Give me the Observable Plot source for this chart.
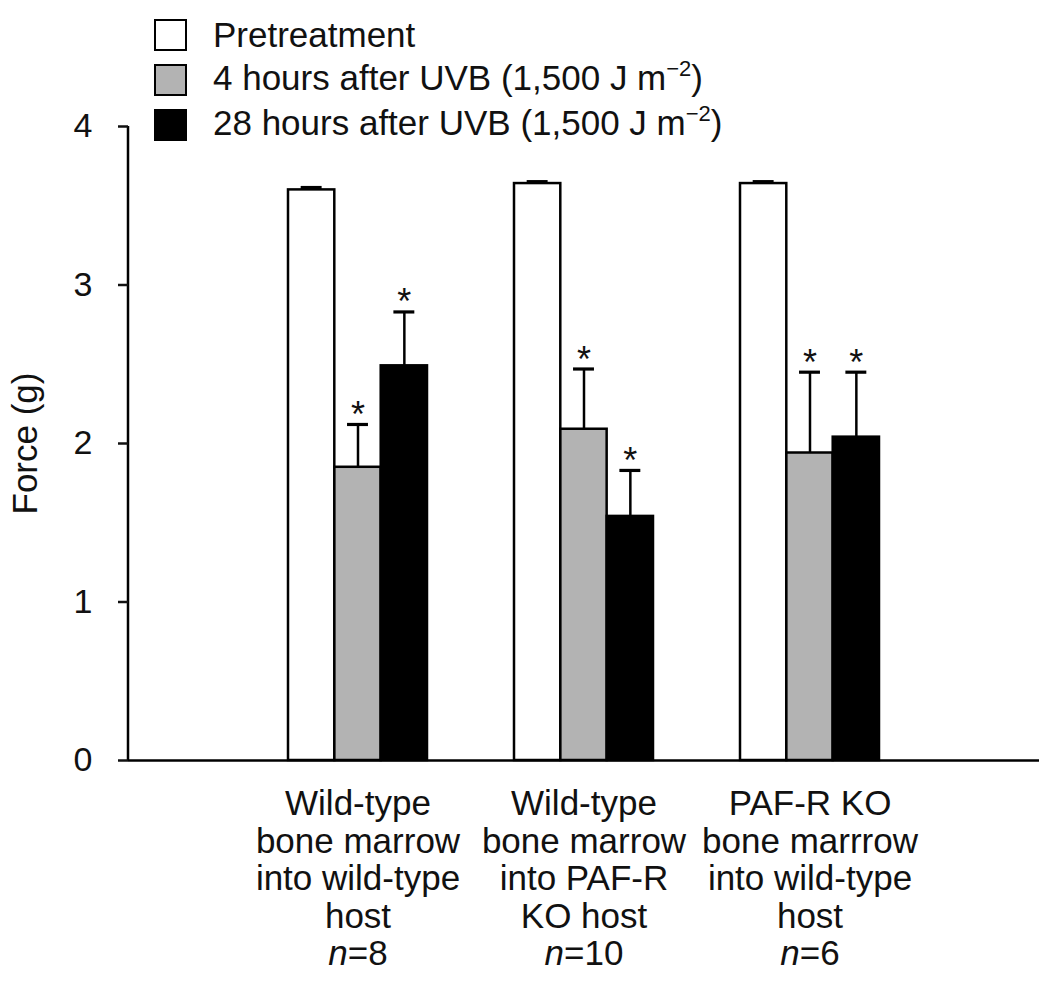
<!DOCTYPE html>
<html>
<head>
<meta charset="utf-8">
<script src="https://cdn.jsdelivr.net/npm/d3@7"></script>
<script src="https://cdn.jsdelivr.net/npm/@observablehq/plot@0.6"></script>
<style>
  body { margin: 0; background: #fff; font-family: "Liberation Sans", Arial, Helvetica, sans-serif; }
  #wrap { position: relative; width: 1050px; height: 981px; }
  #legend { position: absolute; left: 154px; top: 12px; }
  .row { display: flex; align-items: center; height: 45px; font-size: 35px; line-height: 35px; color: #111; white-space: nowrap; }
  .sw { width: 33px; height: 32px; box-sizing: border-box; border: 2.5px solid #000; margin-right: 26px; flex: none; }
  .sup { font-size: 22px; position: relative; top: -14px; }
</style>
</head>
<body>
<div id="wrap">
  <div id="chart"></div>
  <div id="legend"></div>
</div>
<script>
// ---- data ----
const groupLabels = [
  "Wild-type\nbone marrow\ninto wild-type\nhost",
  "Wild-type\nbone marrow\ninto PAF-R\nKO host",
  "PAF-R KO\nbone marrrow\ninto wild-type\nhost"
];
const nValues = [8, 10, 6];
const seriesNames = ["Pretreatment", "4 hours after UVB", "28 hours after UVB"];
const legendLabels = [
  "Pretreatment",
  "4 hours after UVB (1,500 J m<span class='sup'>\u22122</span>)",
  "28 hours after UVB (1,500 J m<span class='sup'>\u22122</span>)"
];
const pretreatment = [3.60, 3.64, 3.64];
const pretreatmentErr = [0.015, 0.012, 0.012];
const after4h = [1.85, 2.09, 1.94];
const after4hErr = [0.27, 0.38, 0.51];
const after28h = [2.49, 1.54, 2.04];
const after28hErr = [0.34, 0.29, 0.41];
const significant = [[false, false, false], [true, true, true], [true, true, true]];
const yTicks = [0, 1, 2, 3, 4];

// ---- styles / layout ----
const seriesFill = ["#ffffff", "#b3b3b3", "#000000"];
const W = 1050, H = 981, mL = 128, mR = 11, mT = 126, mB = 221;
const padIn = 0.385, padOut = 0.707;
const capW = 21;

const seriesValues = [pretreatment, after4h, after28h];
const seriesErrs = [pretreatmentErr, after4hErr, after28hErr];
const rows = [];
seriesNames.forEach((s, i) => {
  groupLabels.forEach((g, j) => {
    rows.push({group: g, series: s, si: i, value: seriesValues[i][j], err: seriesErrs[i][j], sig: significant[i][j]});
  });
});
const groupRows = groupLabels.map((g, j) => ({group: g, label: g + "\nn=" + nValues[j]}));

const bw = d3.scaleBand(groupLabels, [mL, W - mR]).paddingInner(padIn).paddingOuter(padOut).bandwidth();
const w = bw / seriesNames.length;
const k = seriesNames.length - 1;

const marks = [];
seriesNames.forEach((s, i) => {
  const d = rows.filter(r => r.si === i);
  marks.push(Plot.barY(d, {x: "group", y: "value", insetLeft: i * w, insetRight: (k - i) * w,
    fill: seriesFill[i], stroke: "black", strokeWidth: 2.5}));
  marks.push(Plot.ruleX(d, {x: "group", y1: "value", y2: r => r.value + r.err, dx: (i - k / 2) * w,
    stroke: "black", strokeWidth: 2.5}));
  marks.push(Plot.tickY(d, {x: "group", y: r => r.value + r.err,
    insetLeft: i * w + (w - capW) / 2, insetRight: (k - i) * w + (w - capW) / 2,
    stroke: "black", strokeWidth: 3.2}));
  marks.push(Plot.text(d.filter(r => r.sig), {x: "group", y: r => r.value + r.err, text: () => "*",
    dx: (i - k / 2) * w, dy: -9, fontSize: 36, fill: "#111"}));
});

function yAxisLine(index, scales, values, dims) {
  const line = document.createElementNS("http://www.w3.org/2000/svg", "line");
  line.setAttribute("x1", dims.marginLeft);
  line.setAttribute("x2", dims.marginLeft);
  line.setAttribute("y1", dims.marginTop);
  line.setAttribute("y2", dims.height - dims.marginBottom);
  line.setAttribute("stroke", "black");
  line.setAttribute("stroke-width", 2.5);
  return line;
}

const chart = Plot.plot({
  width: W, height: H,
  marginLeft: mL, marginRight: mR, marginTop: mT, marginBottom: mB,
  style: {fontFamily: "'Liberation Sans', Arial, Helvetica, sans-serif", fontSize: "34px", background: "white", color: "#111"},
  x: {domain: groupLabels, paddingInner: padIn, paddingOuter: padOut, axis: null},
  y: {domain: [0, 4]},
  marks: [
    ...marks,
    Plot.ruleY([0], {stroke: "black", strokeWidth: 2.5}),
    yAxisLine,
    Plot.axisY({ticks: yTicks, tickSize: 10, tickPadding: 26, fontSize: 34, strokeWidth: 2.5, label: null, tickFormat: d => String(d)}),
    Plot.text(groupRows, {x: "group", frameAnchor: "bottom", text: "label", lineAnchor: "top", dy: 28,
      fontSize: 35, lineHeight: 1.071, fill: "#111"}),
    Plot.text(["Force (g)"], {frameAnchor: "left", textAnchor: "middle", rotate: -90, dx: -103, dy: 0, fontSize: 35, fill: "#111"})
  ]
});

// italic "n" in the n=… lines
chart.querySelectorAll("tspan").forEach(t => {
  const m = /^n=(\d+)$/.exec(t.textContent);
  if (m) {
    t.textContent = "";
    const it = document.createElementNS("http://www.w3.org/2000/svg", "tspan");
    it.setAttribute("font-style", "italic");
    it.textContent = "n";
    t.appendChild(it);
    t.appendChild(document.createTextNode("=" + m[1]));
  }
});
document.getElementById("chart").appendChild(chart);

const legend = document.getElementById("legend");
legendLabels.forEach((lab, i) => {
  const row = document.createElement("div");
  row.className = "row";
  const sw = document.createElement("div");
  sw.className = "sw";
  sw.style.background = seriesFill[i];
  const tx = document.createElement("span");
  tx.innerHTML = lab;
  row.appendChild(sw);
  row.appendChild(tx);
  legend.appendChild(row);
});
</script>
</body>
</html>
